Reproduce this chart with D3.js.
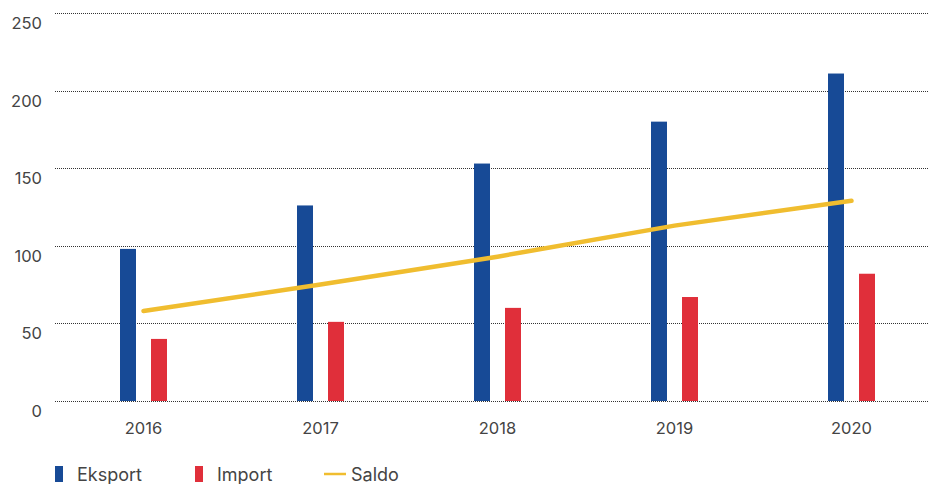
<!DOCTYPE html>
<html>
<head>
<meta charset="utf-8">
<script src="https://cdn.jsdelivr.net/npm/d3@7"></script>
<style>
  body { margin: 0; background: #fff; }
  svg { display: block; font-family: Inter, "Open Sans", sans-serif; }
  .grid line { stroke: #333; stroke-width: 1; stroke-dasharray: 1,1; }
  .tick-label { fill: #444; font-size: 16.5px; }
  .legend text { fill: #444; font-size: 18px; }
</style>
</head>
<body>
<div id="chart"></div>
<script>
const years = ["2016", "2017", "2018", "2019", "2020"];
const eksport = [98, 126, 153, 180, 211];
const importVals = [40, 51, 60, 67, 82];
const saldo = [58, 75, 93, 113, 129];
const yTicks = [0, 50, 100, 150, 200, 250];

const colors = { Eksport: "#174a96", Import: "#e02f3a", Saldo: "#f0bd2f" };

const width = 929, height = 484;

const svg = d3.select("#chart").append("svg")
  .attr("width", width)
  .attr("height", height);

// scales
const x = d3.scaleBand().domain(years).range([55, 940]).padding(0);
const xInner = d3.scaleBand().domain(["Eksport", "Import"])
  .range([-23.5, 23.5]).paddingInner(0.484).paddingOuter(0);
const y = d3.scaleLinear().domain([0, 250]).range([401, 13]);

// background grid
const grid = svg.append("g").attr("class", "grid");
grid.selectAll("line")
  .data(yTicks)
  .enter()
  .append("line")
  .attr("x1", 55)
  .attr("x2", width)
  .attr("y1", d => Math.round(y(d)) + 0.5)
  .attr("y2", d => Math.round(y(d)) + 0.5);

// y labels
svg.append("g").selectAll("text")
  .data(yTicks)
  .enter()
  .append("text")
  .attr("class", "tick-label")
  .attr("x", 42)
  .attr("y", d => y(d) + 16)
  .attr("text-anchor", "end")
  .text(d => d);

// x labels
svg.append("g").selectAll("text")
  .data(years)
  .enter()
  .append("text")
  .attr("class", "tick-label")
  .attr("x", d => x(d) + x.bandwidth() / 2)
  .attr("y", 434)
  .attr("text-anchor", "middle")
  .text(d => d);

// bars
const center = d => x(d) + x.bandwidth() / 2;
const bars = svg.append("g").attr("class", "bars");
[["Eksport", eksport], ["Import", importVals]].forEach(([name, vals]) => {
  bars.selectAll("rect." + name)
    .data(years)
    .enter()
    .append("rect")
    .attr("class", name)
    .attr("x", d => center(d) + xInner(name))
    .attr("width", xInner.bandwidth())
    .attr("y", (d, i) => y(vals[i]))
    .attr("height", (d, i) => y(0) - y(vals[i]))
    .attr("fill", colors[name]);
});

// saldo line
const line = d3.line()
  .x((d, i) => center(years[i]))
  .y(d => y(d));
svg.append("path")
  .datum(saldo)
  .attr("d", line)
  .attr("fill", "none")
  .attr("stroke", colors.Saldo)
  .attr("stroke-width", 4.5)
  .attr("stroke-linecap", "round");

// legend
const legend = svg.append("g").attr("class", "legend");
const legendItems = [
  { name: "Eksport", x: 55, type: "bar" },
  { name: "Import", x: 195, type: "bar" },
  { name: "Saldo", x: 324, type: "line" }
];
legendItems.forEach(it => {
  if (it.type === "bar") {
    legend.append("rect")
      .attr("x", it.x).attr("y", 466)
      .attr("width", 8).attr("height", 16)
      .attr("fill", colors[it.name]);
    legend.append("text")
      .attr("x", it.x + 22).attr("y", 481)
      .text(it.name);
  } else {
    legend.append("line")
      .attr("x1", it.x).attr("x2", it.x + 22)
      .attr("y1", 474).attr("y2", 474)
      .attr("stroke", colors[it.name])
      .attr("stroke-width", 2.5);
    legend.append("text")
      .attr("x", it.x + 27).attr("y", 481)
      .text(it.name);
  }
});
</script>
</body>
</html>
